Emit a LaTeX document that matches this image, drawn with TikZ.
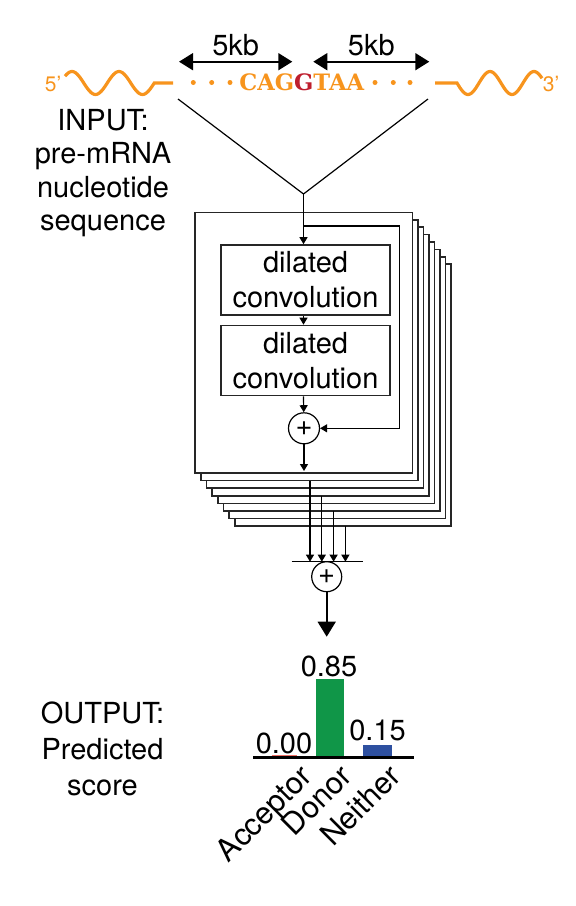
\documentclass[tikz,border=0pt]{standalone}
\usepackage{fontspec}
\setmainfont{TeX Gyre Heros}
\newfontfamily\seqfont{DejaVu Serif}
\usepackage{tikz}
\usetikzlibrary{positioning,arrows.meta}
\definecolor{seqorange}{RGB}{247,148,29}
\definecolor{seqred}{RGB}{190,30,45}
\definecolor{bargreen}{RGB}{16,150,72}
\definecolor{barblue}{RGB}{46,80,160}
\definecolor{barred}{RGB}{240,110,100}

\begin{document}
\begin{tikzpicture}[x=0.5pt, y=-0.5pt,
  every node/.style={font=\fontsize{14.5}{16.75}\selectfont},
  arr/.style={-{Triangle[length=3.5pt,width=4pt]}, line width=0.6pt},
  kbarr/.style={{Triangle[length=7pt,width=8.5pt]}-{Triangle[length=7pt,width=8.5pt]}, line width=0.8pt},
  stackbox/.style={draw=black!85, fill=white, line width=0.8pt},
  convbox/.style={draw=black!85, line width=0.8pt, minimum width=84.5pt, minimum height=35pt, align=center, inner sep=0pt, font=\fontsize{14.5}{17.5}\selectfont},
  sumnode/.style={draw, circle, line width=0.6pt, minimum size=15.5pt, inner sep=0pt},
  catlbl/.style={rotate=45, anchor=north east, inner sep=0pt, font=\fontsize{15.3}{15.3}\selectfont},
  wave/.style={seqorange, line width=1.6pt}]
\path[use as bounding box] (0,0) rectangle (576,906);

% input sequence
\draw[wave] plot[domain=65:154.25, samples=60] (\x, {83-11.5*cos(7.6596*(\x-72))}) -- (173,83);
\draw[wave] (435,83) -- (457,83) -- plot[domain=457:542, samples=60] (\x, {83+11.5*cos(8.1818*(\x-468))});
\node[text=seqorange, font=\fontsize{10.5}{10.5}\selectfont] (five) at (53,84) {5’};
\node[text=seqorange, font=\fontsize{10.5}{10.5}\selectfont] (three) at (551,84) {3’};
\foreach \x in {193.3,211.7,230,375,393.3,410}
  \fill[seqorange] (\x,82.5) circle[radius=2.5];
\node[anchor=base, inner sep=0pt, text=seqorange, font=\seqfont\bfseries\fontsize{11.3}{11.3}\selectfont] (core) at (301.7,90.7) {CAG\textcolor{seqred}{G}TAA};

% 5kb windows
\coordinate (kbLa) at (179,61.7);
\coordinate (kbLb) at (292.3,61.7);
\coordinate (kbRa) at (313.3,61.7);
\coordinate (kbRb) at (429.3,61.7);
\draw[kbarr] (kbLa) -- (kbLb) node[midway, above=2.5pt, inner sep=0pt] (kbL) {5kb};
\draw[kbarr] (kbRa) -- (kbRb) node[midway, above=2.5pt, inner sep=0pt] (kbR) {5kb};

\coordinate (vL) at (178,99);
\coordinate (vR) at (428,99);
\coordinate (vJ) at (303.5,194);
\draw[line width=0.6pt] (vL) -- (vJ) -- (vR);

\node[align=center, anchor=base, inner sep=0pt] (inlbl) at (103,230.7) {INPUT:\\pre-mRNA\\nucleotide\\sequence};

% stacked residual blocks
\foreach \i in {7,...,0}
  \draw[stackbox] ({195+5.7*\i},{212.3+7.4*\i}) rectangle ({412.3+5.55*\i},{473+7.6*\i});

\node[convbox] (conv1) at (305.5,280) {dilated\\convolution};
\node[convbox] (conv2) at (305.5,360.5) {dilated\\convolution};
\node[sumnode] (add1) at (304,428.3) {+};
\coordinate (skipA) at (304,226);
\coordinate (skipB) at (399.3,226);
\coordinate (blockout) at (304,471);

\draw[arr] (vJ) -- (vJ |- conv1.north);
\draw[arr] (vJ |- conv1.south) -- (vJ |- conv2.north);
\draw[arr] (vJ |- conv2.south) -- (add1);
\draw[arr] (skipA) -- (skipB) |- (add1);
\draw[arr] (add1) -- (blockout);

% sum over blocks
\coordinate (barL) at (291.7,561.7);
\coordinate (barR) at (362.7,561.7);
\foreach \k in {0,...,3}
  \coordinate (out\k) at ({310+11.8*\k},{480.6+15.2*\k});
\foreach \k in {0,...,3}
  \draw[arr] (out\k) -- (out\k |- barL);
\draw[line width=0.6pt] (barL) -- (barR);
\node[sumnode, minimum size=15pt] (add2) at (326.7,576.7) {+};
\coordinate (pred) at (326.7,636.7);
\draw[line width=0.8pt, -{Triangle[length=7.5pt,width=9pt]}] (add2) -- (pred);

% output scores
\fill[bargreen] (316,679.3) rectangle (344.3,757.7);
\fill[barblue] (363.3,744.7) rectangle (391.7,757.7);
\draw[barred, line width=0.6pt] (271.7,755.5) -- (296.7,755.5);
\coordinate (axL) at (253.3,757.7);
\coordinate (axR) at (414,757.7);
\draw[line width=1.5pt] (axL) -- (axR);

\node[anchor=base, inner sep=0pt] (vAcc) at (284,753.3) {0.00};
\node[anchor=base, inner sep=0pt] (vDon) at (329,676.7) {0.85};
\node[anchor=base, inner sep=0pt] (vNei) at (377.5,740.7) {0.15};

\node[catlbl] (lAcc) at (298,762) {Acceptor};
\node[catlbl] (lDon) at (338,762) {Donor};
\node[catlbl] (lNei) at (387,762) {Neither};

\node[align=center, anchor=base, inner sep=0pt, font=\fontsize{14.5}{18}\selectfont] (outlbl) at (102.5,795) {OUTPUT:\\Predicted\\score};

\end{tikzpicture}
\end{document}
